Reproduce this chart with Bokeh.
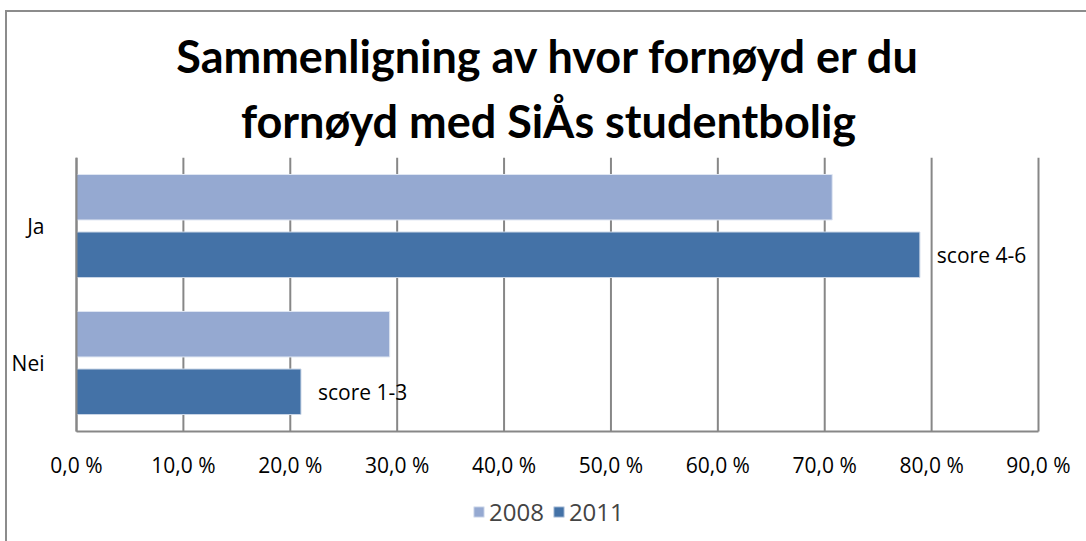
from bokeh.plotting import figure
from bokeh.models import (Range1d, FixedTicker, Legend, LegendItem,
                          Title, ColumnDataSource)
from bokeh.transform import dodge
from bokeh.embed import file_html
from bokeh.resources import INLINE
from bokeh.core.properties import value

# ---- data ----
categories = ["Ja", "Nei"]
series_names = ["2008", "2011"]
values_2008 = [70.7, 29.3]
values_2011 = [78.9, 21.0]
bar_labels = ["score 4-6", "score 1-3"]
tick_values = [0, 10, 20, 30, 40, 50, 60, 70, 80, 90]
tick_labels = ["0,0 %", "10,0 %", "20,0 %", "30,0 %", "40,0 %",
               "50,0 %", "60,0 %", "70,0 %", "80,0 %", "90,0 %"]
title_lines = ["Sammenligning av hvor fornøyd er du",
               "fornøyd med SiÅs studentbolig"]

COL_2008 = "#95a9d1"
COL_2011 = "#4472a7"
GRID = "#878787"
FONT = "Open Sans"
TFONT = "Lato"

n = len(categories)
cat_pos = [n - i - 0.5 for i in range(n)]          # Ja on top, Nei below
x_min, x_max = tick_values[0], tick_values[-1]
src = ColumnDataSource(dict(pos=cat_pos, cat=categories, v2008=values_2008,
                            v2011=values_2011, lbl=bar_labels))
grid_src = ColumnDataSource(dict(x=tick_values, y0=[0] * len(tick_values),
                                 y1=[n] * len(tick_values)))

# the frame is larger than the plotted band so that axis labels and the
# legend (drawn inside it) are not clipped
p = figure(frame_width=1076, frame_height=384,
           y_range=Range1d(-0.803, n), x_range=Range1d(-6.175, 94.49),
           output_backend="svg", toolbar_location=None,
           min_border_left=3, min_border_right=0,
           min_border_top=145, min_border_bottom=0)
p.margin = (10, 0, 0, 5)
p.styles = {"border-left": "2px solid #8c8c8c", "border-top": "2px solid #8c8c8c"}

# vertical grid lines at the tick positions, over the category band only
p.segment(x0="x", y0="y0", x1="x", y1="y1", source=grid_src,
          line_color=GRID, line_width=2)

r1 = p.hbar(y=dodge("pos", 0.21), right="v2008", left=0,
            height=0.332, source=src, fill_color=COL_2008,
            line_color="#dfe6f2", line_width=1)
r2 = p.hbar(y=dodge("pos", -0.21), right="v2011", left=0,
            height=0.332, source=src, fill_color=COL_2011,
            line_color="#c9d5e6", line_width=1)

p.text(x="v2011", y=dodge("pos", -0.21), text="lbl",
       source=src, x_offset=17, text_baseline="middle", text_align="left",
       text_font=value(FONT), text_font_size="21px", text_color="black")

# x axis drawn at y = 0 (bottom of the category band)
xa = p.xaxis[0]
xa.fixed_location = 0
xa.bounds = (x_min, x_max)
xa.ticker = FixedTicker(ticks=tick_values)
xa.major_label_overrides = {t: l for t, l in zip(tick_values, tick_labels)}
xa.axis_line_color = GRID
xa.axis_line_width = 2
xa.major_tick_out = 0
xa.major_tick_in = 0
xa.minor_tick_line_color = None
xa.major_label_standoff = 20
xa.major_label_text_font = FONT
xa.major_label_text_font_size = "21px"
xa.major_label_text_color = "black"

# y axis drawn at x = 0
ya = p.yaxis[0]
ya.fixed_location = 0
ya.bounds = (0, n)
ya.ticker = FixedTicker(ticks=cat_pos)
ya.major_label_overrides = {pos: c for pos, c in zip(cat_pos, categories)}
ya.axis_line_color = GRID
ya.axis_line_width = 2
ya.major_tick_line_color = None
ya.minor_tick_line_color = None
ya.major_label_standoff = 26
ya.major_label_text_font = FONT
ya.major_label_text_font_size = "21px"
ya.major_label_text_color = "black"

p.xgrid.grid_line_color = None
p.ygrid.grid_line_color = None
p.outline_line_color = None

# legend (inside the extended frame, under the tick labels)
legend = Legend(items=[LegendItem(label=series_names[0], renderers=[r1]),
                       LegendItem(label=series_names[1], renderers=[r2])],
                orientation="horizontal", location=(462, 13),
                label_text_font=FONT, label_text_font_size="24px",
                glyph_width=13, glyph_height=13, label_standoff=4, spacing=8,
                border_line_color=None, background_fill_alpha=0,
                margin=0, padding=2)
p.add_layout(legend, "center")

# title (two lines; first added is nearest the frame)
p.add_layout(Title(text=title_lines[1], align="center", offset=2,
                   text_font=TFONT, text_font_style="bold",
                   text_font_size="45px", text_color="black", standoff=19), "above")
p.add_layout(Title(text=title_lines[0], align="center", offset=2,
                   text_font=TFONT, text_font_style="bold",
                   text_font_size="45px", text_color="black", standoff=0), "above")

open("out.html", "w").write(file_html(p, INLINE))
